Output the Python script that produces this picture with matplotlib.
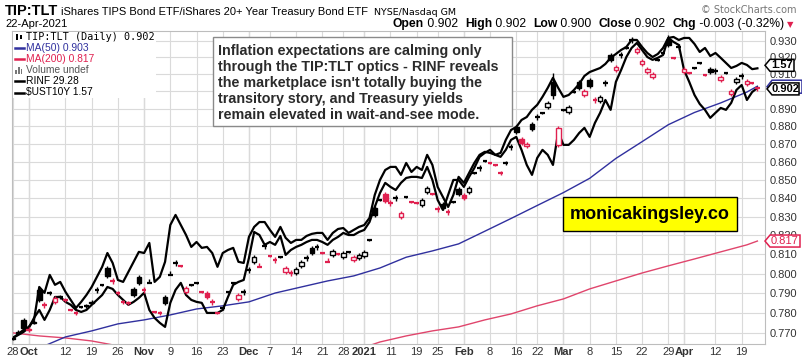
import numpy as np
import pandas as pd
import matplotlib
matplotlib.use('Agg')
import matplotlib.pyplot as plt
from matplotlib.patches import Rectangle, Polygon
from matplotlib.ticker import FixedLocator, FixedFormatter, NullLocator

# ---------------- data ----------------
holidays = ['2020-11-26', '2020-12-25', '2021-01-01', '2021-01-18', '2021-02-15', '2021-04-02']

tick_dates = ['2020-09-28', '2020-10-01', '2020-10-12', '2020-10-19', '2020-10-26', '2020-11-02',
              '2020-11-09', '2020-11-16', '2020-11-23', '2020-12-01', '2020-12-07', '2020-12-14',
              '2020-12-21', '2020-12-28', '2021-01-04', '2021-01-11', '2021-01-19', '2021-01-25',
              '2021-02-01', '2021-02-08', '2021-02-16', '2021-02-22', '2021-03-01', '2021-03-08',
              '2021-03-15', '2021-03-22', '2021-03-29', '2021-04-01', '2021-04-12', '2021-04-19']
tick_labels = ['28', 'Oct', '12', '19', '26', 'Nov', '9', '16', '23', 'Dec', '7', '14', '21', '28',
               '2021', '11', '19', '25', 'Feb', '8', '16', '22', 'Mar', '8', '15', '22', '29', 'Apr',
               '12', '19']
month_labels = ['Oct', 'Nov', 'Dec', '2021', 'Feb', 'Mar', 'Apr']

y_levels = [0.770, 0.780, 0.790, 0.800, 0.810, 0.820, 0.830, 0.840, 0.850,
            0.860, 0.870, 0.880, 0.890, 0.900, 0.910, 0.920, 0.930]

# TIP:TLT daily candles
tl_open = [.7669, .7699, .7764, .7719, .7749, .7916, .7840, .7900, .7855, .7880,
           .7865, .7814, .7799, .7829, .7835, .7850, .7916, .7942, .8029, .7962,
           .7900, .7855, .7850, .7921, .7983, .7916, .7952, .7804, .7799, .7880,
           .7993, .8055, .8040, .7906, .7942, .7952, .7906, .7900, .7855, .7799,
           .7824, .7906, .7952, .7870, .7906, .8019, .8061, .8035, .8145, .8092,
           .8071, .8087, .8009, .8003, .8003, .8040, .8081, .8134, .8139, .8107,
           .8061, .8097, .8102, .8087, .8113, .8071, .8081, .8092, .8176, .8347,
           .8390, .8422, .8374, .8401, .8298, .8406, .8379, .8374, .8363, .8433,
           .8422, .8341, .8368, .8325, .8379, .8450, .8417, .8433, .8538, .8565,
           .8604, .8593, .8582, .8538, .8593, .8683, .8795, .8728, .8688, .8812,
           .8852, .8876, .8910, .9055, .8694, .8893, .8881, .8996, .9055, .8979,
           .9067, .8950, .8944, .9049, .9215, .9125, .9215, .9256, .9304, .9232,
           .9161, .9114, .9084, .9185, .9226, .9304, .9197, .9262, .9114, .9108,
           .9137, .9167, .9096, .9131, .9119, .9067, .9108, .8985, .9055, .9090,
           .9043, .9050, .9020]
tl_close = [.7674, .7704, .7724, .7714, .7754, .7865, .7840, .7900, .7875, .7880,
            .7865, .7814, .7799, .7829, .7835, .7855, .7916, .7942, .7988, .7962,
            .7900, .7855, .7850, .7890, .7952, .7916, .7952, .7804, .7799, .7850,
            .7993, .8055, .8040, .7926, .7942, .7952, .7906, .7880, .7855, .7799,
            .7824, .7906, .7952, .7890, .7906, .8019, .8087, .8035, .8145, .8092,
            .8071, .8087, .8029, .8003, .8024, .8061, .8081, .8107, .8139, .8107,
            .8061, .8118, .8102, .8107, .8113, .8087, .8097, .8113, .8176, .8309,
            .8390, .8385, .8374, .8401, .8320, .8406, .8379, .8374, .8390, .8455,
            .8422, .8341, .8347, .8325, .8379, .8422, .8401, .8455, .8538, .8565,
            .8604, .8593, .8582, .8538, .8593, .8683, .8767, .8705, .8700, .8784,
            .8852, .8876, .8933, .8979, .8789, .8893, .8910, .8996, .9020, .9002,
            .9031, .8950, .8967, .9049, .9185, .9143, .9215, .9256, .9304, .9250,
            .9179, .9131, .9102, .9185, .9226, .9274, .9197, .9262, .9131, .9108,
            .9137, .9167, .9096, .9114, .9119, .9084, .9108, .9002, .9073, .9090,
            .9061, .9050, .9020]
tl_high = [.7684, .7714, .7774, .7729, .7764, .7926, .7855, .7911, .7885, .7890,
           .7875, .7819, .7809, .7835, .7845, .7865, .7931, .7947, .8040, .7977,
           .7911, .7865, .7860, .7931, .7993, .7931, .7972, .7809, .7809, .7890,
           .8014, .8071, .8045, .7937, .7947, .7957, .7911, .7911, .7870, .7804,
           .7835, .7911, .7957, .7900, .7921, .8035, .8097, .8055, .8160, .8097,
           .8087, .8092, .8040, .8019, .8035, .8071, .8097, .8145, .8155, .8113,
           .8081, .8128, .8107, .8118, .8118, .8097, .8107, .8123, .8181, .8358,
           .8395, .8433, .8390, .8417, .8331, .8411, .8385, .8379, .8401, .8466,
           .8428, .8358, .8379, .8341, .8385, .8461, .8428, .8466, .8543, .8582,
           .8610, .8599, .8588, .8549, .8604, .8700, .8807, .8739, .8711, .8824,
           .8870, .8881, .8944, .9108, .8801, .8899, .8922, .9002, .9067, .9014,
           .9079, .8967, .8979, .9067, .9226, .9155, .9232, .9262, .9322, .9262,
           .9191, .9143, .9114, .9191, .9232, .9334, .9203, .9280, .9143, .9114,
           .9143, .9173, .9102, .9143, .9137, .9096, .9114, .9014, .9084, .9108,
           .9073, .9055, .9020]
tl_low = [.7664, .7694, .7714, .7704, .7744, .7855, .7824, .7890, .7845, .7870,
          .7855, .7809, .7789, .7824, .7824, .7845, .7900, .7937, .7977, .7947,
          .7890, .7845, .7840, .7880, .7942, .7900, .7952, .7799, .7789, .7840,
          .7993, .8040, .8035, .7895, .7937, .7947, .7900, .7870, .7840, .7794,
          .7814, .7900, .7947, .7860, .7890, .8003, .8050, .8035, .8128, .8087,
          .8055, .8081, .7998, .7988, .7993, .8029, .8066, .8097, .8123, .8102,
          .8061, .8087, .8097, .8076, .8107, .8061, .8071, .8081, .8171, .8298,
          .8385, .8374, .8358, .8385, .8287, .8401, .8374, .8368, .8352, .8422,
          .8417, .8325, .8336, .8309, .8374, .8412, .8390, .8422, .8532, .8549,
          .8599, .8588, .8577, .8527, .8582, .8666, .8756, .8694, .8677, .8773,
          .8835, .8870, .8899, .8956, .8683, .8887, .8870, .8990, .9008, .8967,
          .9020, .8933, .8933, .9031, .9173, .9114, .9197, .9250, .9286, .9221,
          .9149, .9102, .9073, .9179, .9221, .9262, .9191, .9244, .9102, .9102,
          .9131, .9161, .9090, .9102, .9102, .9055, .9102, .8973, .9043, .9073,
          .9031, .9043, .9000]

# overlays (scaled onto the price axis)
ust10y = [.7674, .7694, .7714, .7729, .7764, .7931, .7901, .7993, .7942, .7957,
          .7906, .7865, .7824, .7855, .7890, .7931, .7983, .8035, .8107, .8055,
          .7967, .7957, .8009, .8061, .8113, .8107, .8160, .7957, .7983, .8061,
          .8255, .8309, .8255, .8202, .8139, .8165, .8134, .8139, .8107, .8035,
          .8107, .8123, .8134, .8061, .8055, .8192, .8245, .8271, .8271, .8229,
          .8192, .8245, .8187, .8160, .8176, .8176, .8197, .8208, .8213, .8213,
          .8176, .8213, .8234, .8239, .8213, .8229, .8245, .8255, .8293, .8417,
          .8499, .8554, .8571, .8571, .8527, .8593, .8543, .8571, .8554, .8638,
          .8582, .8461, .8406, .8352, .8417, .8516, .8483, .8538, .8593, .8638,
          .8655, .8649, .8638, .8649, .8722, .8778, .8795, .8835, .8852, .8893,
          .8922, .8968, .9020, .9079, .9020, .8968, .8979, .9008, .9043, .9090,
          .9113, .9125, .9137, .9161, .9197, .9220, .9244, .9262, .9304, .9304,
          .9262, .9226, .9202, .9220, .9256, .9316, .9322, .9304, .9316, .9316,
          .9280, .9232, .9256, .9208, .9226, .9197, .9167, .9137, .9149, .9167,
          .9155, .9130, .9135]
rinf = [.7674, .7689, .7704, .7724, .7774, .7814, .7764, .7814, .7880, .7880,
        .7855, .7840, .7814, .7804, .7814, .7840, .7865, .7890, .7931, .7921,
        .7890, .7865, .7840, .7855, .7875, .7901, .7814, .7774, .7749, .7729,
        .7850, .7916, .7952, .7890, .7865, .7855, .7850, .7799, .7799, .7799,
        .7814, .7880, .7942, .7957, .7967, .8081, .8218, .8202, .8150, .8165,
        .8150, .8197, .8097, .8123, .8139, .8150, .8165, .8176, .8176, .8165,
        .8150, .8176, .8192, .8213, .8202, .8202, .8218, .8229, .8271, .8352,
        .8428, .8483, .8461, .8444, .8483, .8510, .8516, .8516, .8510, .8571,
        .8499, .8390, .8336, .8417, .8499, .8499, .8461, .8516, .8565, .8627,
        .8649, .8666, .8638, .8627, .8666, .8722, .8739, .8666, .8582, .8527,
        .8621, .8666, .8638, .8582, .8767, .8694, .8694, .8722, .8761, .8790,
        .8739, .8818, .8876, .8950, .8893, .9055, .9125, .9202, .9256, .9286,
        .9244, .9202, .9185, .9197, .9214, .9316, .9292, .9274, .9125, .9055,
        .8979, .8927, .8893, .8847, .8876, .8904, .8893, .8933, .9008, .9037,
        .8950, .8996, .9020]

ma_days = [0, 5, 10, 15, 20, 25, 30, 35, 40, 45, 50, 55, 60, 65, 70, 75, 80, 85, 90,
           95, 100, 105, 110, 115, 120, 125, 130, 135, 140, 142]
ma50 = [.7590, .7624, .7679, .7709, .7744, .7764, .7789, .7819, .7835, .7855,
        .7900, .7931, .7962, .7988, .8029, .8085, .8118, .8155, .8222, .8290,
        .8360, .8430, .8508, .8618, .8712, .8808, .8878, .8933, .8996, .9030]
ma200 = [.7699, .7684, .7674, .7659, .7635, .7620, .7605, .7595, .7585, .7580,
         .7575, .7575, .7585, .7610, .7654, .7684, .7709, .7729, .7764, .7794,
         .7835, .7870, .7921, .7962, .8003, .8040, .8076, .8113, .8150, .8170]

# ---------------- figure ----------------
W, H = 803, 362
RED = '#e0204f'
BLUE = '#30309e'
PINK = '#e0456c'
SANS = 'Liberation Sans'

dates = pd.bdate_range('2020-09-28', '2021-04-22')
dates = dates[~dates.isin(pd.to_datetime(holidays))]
x = np.arange(len(dates))
tick_pos = dates.get_indexer(pd.to_datetime(tick_dates))

fig = plt.figure(figsize=(W / 100, H / 100), dpi=100)
ax = fig.add_axes([12 / W, 18 / H, 753 / W, 313 / H])
ax.set_yscale('log')
ax.set_ylim(0.7644, 0.9358)
ax.set_xlim(-0.2, 143.45)

ax.yaxis.set_major_locator(FixedLocator(y_levels))
ax.yaxis.set_major_formatter(FixedFormatter([f'{v:.3f}' for v in y_levels]))
ax.yaxis.set_minor_locator(NullLocator())
ax.set_xticks(tick_pos)
ax.set_xticklabels(tick_labels)
ax.tick_params(axis='y', which='both', left=False, right=False, labelleft=False,
               labelright=True, length=0, pad=3, labelsize=8, labelcolor='#333333')
ax.tick_params(axis='x', length=0, pad=2.5, labelsize=8, labelcolor='#333333')
for t in ax.get_xticklabels() + ax.get_yticklabels():
    t.set_fontfamily(SANS)
for t in ax.get_xticklabels():
    if t.get_text() in month_labels:
        t.set_fontweight('bold')

ax.grid(True, color='#dadada', lw=0.8)
for p, lab in zip(tick_pos, tick_labels):
    if lab in month_labels:
        ax.axvline(p, color='#c6c6c6', lw=0.9, zorder=0.5)
ax.set_axisbelow(True)
for s in ax.spines.values():
    s.set_color('#bdbdbd')
    s.set_linewidth(0.8)

# overlays
ax.plot(ma_days, ma200, color=PINK, lw=1.0, zorder=2)
ax.plot(ma_days, ma50, color=BLUE, lw=1.0, zorder=2)
ax.plot(x, rinf, color='black', lw=1.6, zorder=2.2)
ax.plot(x, ust10y, color='black', lw=1.6, zorder=2.2)

# candles
bw = 0.88
for i in range(len(x)):
    o, c, hi, lo = tl_open[i], tl_close[i], tl_high[i], tl_low[i]
    col = 'black' if i == 0 or c >= tl_close[i - 1] else RED
    ax.vlines(i, lo, hi, color=col, lw=1.0, zorder=3)
    if abs(c - o) < 1e-6:
        ax.hlines(c, i - bw / 2, i + bw / 2, color=col, lw=1.6, zorder=3.1)
    else:
        face = 'white' if c > o else col
        ax.add_patch(Rectangle((i - bw / 2, min(o, c)), bw, abs(c - o), facecolor=face,
                               edgecolor=col, lw=1.0, zorder=3.1))


def fxy(px, py):
    return px / W, 1 - py / H


def seq_text(px, py, parts):
    r = fig.canvas.get_renderer()
    for s, size, weight, color, fam in parts:
        t = fig.text(*fxy(px, py), s, fontsize=size, fontweight=weight, color=color,
                     family=fam, va='baseline', ha='left')
        px += t.get_window_extent(r).width
    return px


# header
seq_text(5, 15, [('TIP:TLT', 10.5, 'bold', 'black', SANS), (' ', 8, 'normal', 'black', SANS),
                 ('iShares TIPS Bond ETF/iShares 20+ Year Treasury Bond ETF', 8, 'normal', 'black', SANS),
                 ('  ', 7, 'normal', 'black', SANS),
                 ('NYSE/Nasdaq GM', 6.8, 'normal', 'black', 'DejaVu Sans')])
fig.text(*fxy(5, 27), '22-Apr-2021', fontsize=8, family=SANS, va='baseline')
fig.text(*fxy(797, 13), '\u00a9 StockCharts.com', fontsize=7, family='DejaVu Sans', color='#777777',
         va='baseline', ha='right')
F = 8.7
end = seq_text(393, 27, [('Open', F, 'bold', 'black', SANS), (' 0.902  ', F, 'normal', 'black', SANS),
                         ('High', F, 'bold', 'black', SANS), (' 0.902  ', F, 'normal', 'black', SANS),
                         ('Low', F, 'bold', 'black', SANS), (' 0.900  ', F, 'normal', 'black', SANS),
                         ('Close', F, 'bold', 'black', SANS), (' 0.902  ', F, 'normal', 'black', SANS),
                         ('Chg', F, 'bold', 'black', SANS),
                         (' -0.003 (-0.32%) ', F, 'normal', 'black', SANS)])
fig.text(*fxy(end, 27), '\u25bc', fontsize=6, family='DejaVu Sans', color=RED, va='baseline')

# legend block
fig.add_artist(Rectangle(fxy(13, 98), 143 / W, 66 / H, transform=fig.transFigure,
                         facecolor='white', edgecolor='none', zorder=4))
leg_y = [36.5, 47.7, 58.9, 70.1, 81.3, 92.5]
fig.add_artist(Rectangle(fxy(16, leg_y[0] + 3), 1.6 / W, 6 / H, transform=fig.transFigure,
                         facecolor='black', zorder=5))
fig.add_artist(Rectangle(fxy(20, leg_y[0] + 2), 1.6 / W, 4 / H, transform=fig.transFigure,
                         facecolor='black', zorder=5))
fig.text(*fxy(26, leg_y[0]), 'TIP:TLT (Daily) 0.902', fontsize=7.3, family='DejaVu Sans Mono',
         va='center', zorder=6)
leg_items = [('MA(50) 0.903', BLUE), ('MA(200) 0.817', RED), ('Volume undef', '#555555'),
             ('RINF 29.28', 'black'), ('\\$UST10Y 1.57', 'black')]
for (lab, col), yy in zip(leg_items, leg_y[1:]):
    if lab.startswith('Volume'):
        for k, hh in enumerate([4, 7, 5]):
            fig.add_artist(Rectangle(fxy(15.5 + k * 2.6, yy + 3.5), 1.6 / W, hh / H,
                                     transform=fig.transFigure, facecolor='#777777', zorder=5))
    else:
        fig.add_artist(plt.Line2D([15 / W, 24 / W], [1 - yy / H] * 2, color=col, lw=1.8, zorder=5))
    fig.text(*fxy(26, yy), lab, fontsize=7.4, family=SANS, color=col, va='center', zorder=6)

# commentary box
fig.add_artist(Rectangle(fxy(213, 126), 299 / W, 89 / H, transform=fig.transFigure,
                         facecolor='white', edgecolor='#8a8a8a', lw=1, zorder=4))
note = ['Inflation expectations are calming only',
        'through the TIP:TLT optics - RINF reveals',
        "the marketplace isn't totally buying the",
        'transitory story, and Treasury yields',
        'remain elevated in wait-and-see mode.']
for k, line in enumerate(note):
    fig.text(*fxy(218, 50.5 + 16 * k), line, fontsize=10.3, fontweight='bold', family=SANS,
             color='#2b2b2b', va='center', zorder=5)

# site box
fig.add_artist(Rectangle(fxy(563, 231), 174 / W, 34 / H, transform=fig.transFigure,
                         facecolor='#ffff00', edgecolor='black', lw=1, zorder=4))
fig.text(*fxy(650, 214.5), 'monicakingsley.co', fontsize=13, fontweight='bold', family=SANS,
         ha='center', va='center', zorder=5)


# right-edge value tags
def tag(value, text, edge, tcolor, weight, x0, x1, dy=0, h=12):
    yd = ax.transData.transform((0, value))[1] + dy
    pts = [(x0, yd), (x0 + 5, yd + h / 2), (x1, yd + h / 2), (x1, yd - h / 2), (x0 + 5, yd - h / 2)]
    fig.add_artist(Polygon([(a / W, b / H) for a, b in pts], closed=True, transform=fig.transFigure,
                           facecolor='white', edgecolor=edge, lw=1.1, zorder=7))
    fig.text((x0 + 5 + x1) / 2 / W, yd / H, text, fontsize=8, fontweight=weight, family=SANS,
             color=tcolor, ha='center', va='center', zorder=8)


tag(ust10y[-1], '1.57', 'black', 'black', 'bold', 765, 794, dy=3)
tag(ma50[-1], '', BLUE, BLUE, 'bold', 767, 802, dy=-0.5, h=13)
tag(tl_close[-1], '0.902', 'black', 'black', 'bold', 767, 799, dy=-1, h=12)
tag(ma200[-1], '0.817', RED, RED, 'normal', 765, 800)

fig.savefig('out.png', dpi=100)
